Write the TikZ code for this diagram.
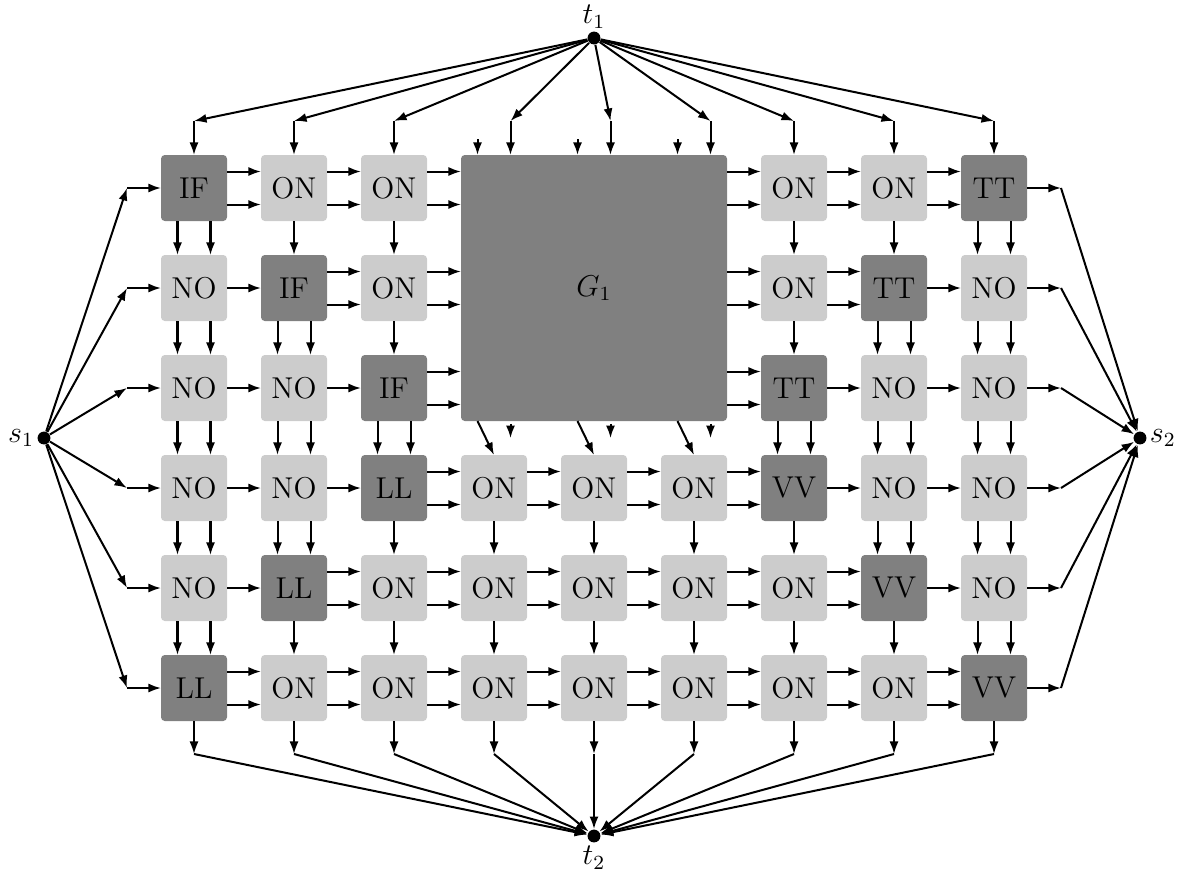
\documentclass[tikz,border=0pt]{standalone}
\usepackage{tikz}
\usetikzlibrary{arrows.meta,positioning}

\tikzset{
  arr/.style={thick,-{Latex[length=5pt,width=3.6pt]}},
  box/.style={rounded corners=1.5pt,minimum size=0.924cm,inner sep=0pt,outer sep=0pt},
  lt/.style={box,fill=gray!40},
  dk/.style={box,fill=gray},
  hid/.style={box,execute at begin node={\setbox0\hbox\bgroup},
    execute at end node={\egroup}},
  dot/.style={circle,fill,inner sep=0pt,minimum size=0.18cm},
}
\def\dsh{0.231cm}
\newcommand\harS[2]{\draw[arr] (#1.east) -- (#2.west);}
\newcommand\harD[2]{\draw[arr] ([yshift=\dsh]#1.east) -- ([yshift=\dsh]#2.west);
  \draw[arr] ([yshift=-\dsh]#1.east) -- ([yshift=-\dsh]#2.west);}
\newcommand\harN[2]{}
\newcommand\varS[2]{\draw[arr] (#1.south) -- (#2.north);}
\newcommand\varD[2]{\draw[arr] ([xshift=-\dsh]#1.south) -- ([xshift=-\dsh]#2.north);
  \draw[arr] ([xshift=\dsh]#1.south) -- ([xshift=\dsh]#2.north);}
\newcommand\varN[2]{}
\newcommand\varG[2]{\draw[arr] ([xshift=-\dsh]#1.south) -- (#2.north);
  \draw[arr] ([xshift=\dsh,yshift=-0.04cm]#1.south) -- ([xshift=\dsh,yshift=-0.24cm]#1.south);}

\begin{document}
\begin{tikzpicture}[x=1.4cm,y=1.4cm,font=\large]
  \useasboundingbox (-0.94,0.88) rectangle (10.95,-7.82);
  \node[dk,minimum size=3.724cm] (G1) at (5,-2) {$G_1$};
  \foreach \row [count=\j] in {
    {IF/dk,ON/lt,ON/lt,x/hid,x/hid,x/hid,ON/lt,ON/lt,TT/dk},
    {NO/lt,IF/dk,ON/lt,x/hid,x/hid,x/hid,ON/lt,TT/dk,NO/lt},
    {NO/lt,NO/lt,IF/dk,x/hid,x/hid,x/hid,TT/dk,NO/lt,NO/lt},
    {NO/lt,NO/lt,LL/dk,ON/lt,ON/lt,ON/lt,VV/dk,NO/lt,NO/lt},
    {NO/lt,LL/dk,ON/lt,ON/lt,ON/lt,ON/lt,ON/lt,VV/dk,NO/lt},
    {LL/dk,ON/lt,ON/lt,ON/lt,ON/lt,ON/lt,ON/lt,ON/lt,VV/dk}} {
    \foreach \lab/\sty [count=\i] in \row
      \node[\sty] (b\i-\j) at (\i,-\j) {\lab};
  }
  \node[dot,label={[inner sep=1pt]left:$s_1$}] (s1) at (-0.5,-3.5) {};
  \node[dot,label={[inner sep=1pt]right:$s_2$}] (s2) at (10.46,-3.5) {};
  \node[dot,label={[inner sep=1pt]above:$t_1$}] (t1) at (5,0.5) {};
  \node[dot,label={[inner sep=1pt]below:$t_2$}] (t2) at (5,-7.48) {};
  \foreach \i in {1,2,3,7,8,9} {
    \coordinate (u\i) at (\i,-0.33);
    \draw[arr] (t1) -- (u\i);
    \draw[arr] (u\i) -- (b\i-1.north);
  }
  \foreach \i in {4,5,6} {
    \coordinate (u\i) at (\i+0.165,-0.33);
    \draw[arr] (t1) -- (u\i);
    \draw[arr] (u\i) -- (u\i |- G1.north);
    \draw[arr] ([xshift=-\dsh,yshift=0.22cm]b\i-1.north) -- ([xshift=-\dsh]b\i-1.north);
  }
  \foreach \j in {1,...,6} {
    \coordinate (l\j) at (0.33,-\j);
    \coordinate (r\j) at (9.67,-\j);
    \draw[arr] (s1) -- (l\j);
    \draw[arr] (l\j) -- (b1-\j.west);
    \draw[arr] (b9-\j.east) -- (r\j);
    \draw[arr] (r\j) -- (s2);
  }
  \foreach \i in {1,...,9} {
    \coordinate (d\i) at (\i,-6.66);
    \draw[arr] (b\i-6.south) -- (d\i);
    \draw[arr] (d\i) -- (t2);
  }
  \foreach \row [count=\j] in {{D,D,D,N,N,D,D,D},{S,D,D,N,N,D,D,S},
    {S,S,D,N,N,D,S,S},{S,S,D,D,D,D,S,S},{S,D,D,D,D,D,D,S},
    {D,D,D,D,D,D,D,D}} {
    \foreach \kind [count=\i] in \row {
      \pgfmathtruncatemacro\k{\i+1}
      \csname har\kind\endcsname{b\i-\j}{b\k-\j}
    }
  }
  \foreach \col [count=\i] in {{D,D,D,D,D},{S,D,D,D,S},{S,S,D,S,S},
    {N,N,G,S,S},{N,N,G,S,S},{N,N,G,S,S},{S,S,D,S,S},{S,D,D,D,S},
    {D,D,D,D,D}} {
    \foreach \kind [count=\j] in \col {
      \pgfmathtruncatemacro\k{\j+1}
      \csname var\kind\endcsname{b\i-\j}{b\i-\k}
    }
  }
\end{tikzpicture}
\end{document}
